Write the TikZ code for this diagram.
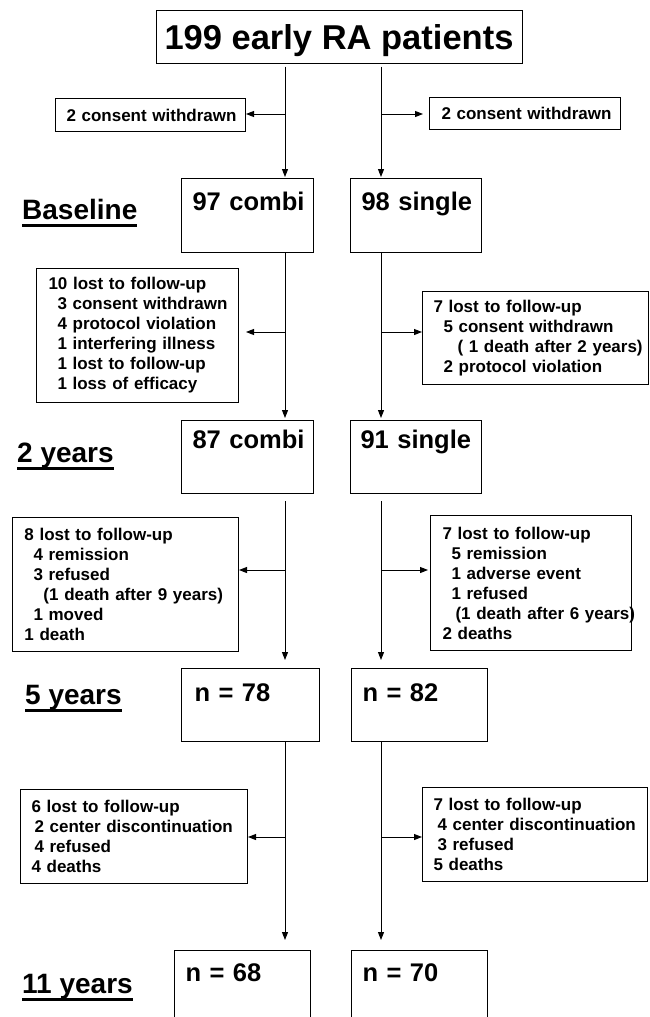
\documentclass[tikz,border=0pt]{standalone}
\usepackage{fontspec}
\setmainfont{Liberation Sans}
\usetikzlibrary{arrows.meta}
\newcommand{\titlesize}{\fontsize{34.5}{40}\selectfont\bfseries}
\newcommand{\armsize}{\fontsize{25.5}{30}\selectfont\bfseries}
\newcommand{\timesize}{\fontsize{28}{33}\selectfont\bfseries}
\newcommand{\losssize}{\fontsize{17}{20}\selectfont\bfseries}
\newcommand{\lossline}[2]{\hspace*{#1pt}\mbox{#2}}
\newcommand{\timeul}[1]{\setbox0\hbox{#1}%
  \rlap{\rule[-8pt]{\wd0}{2.6pt}}\box0}

\begin{document}
\begin{tikzpicture}[x=1pt, y=-1pt,
    flow/.style={line width=1pt, -{Triangle[length=8pt,width=6pt]}},
    armbox/.style={draw, line width=1pt, anchor=north west, inner sep=0pt,
                   align=left, font=\armsize,
                   text height=31pt, text depth=43pt},
    lossbox/.style={draw, line width=1pt, anchor=north west, inner sep=0pt,
                    align=left, font=\losssize},
    timelabel/.style={anchor=base west, inner sep=0pt, font=\timesize}]
  \useasboundingbox (0,0) rectangle (649,1017);

  \node[draw, line width=1pt, minimum width=366pt, minimum height=53pt,
        inner sep=0pt, text height=25pt, text depth=0pt, font=\titlesize]
        (total) at (339,36.5) {199 early RA patients};

  \node[lossbox, text width=190pt, minimum height=33pt] (cwL) at (55,98)
        {\lossline{11}{2 consent withdrawn}};
  \node[lossbox, text width=191pt, minimum height=32pt] (cwR) at (429,97)
        {\lossline{12}{2 consent withdrawn}};

  % baseline
  \node[timelabel] (tBase) at (22,219) {\timeul{Baseline}};
  \node[armbox, text width=132pt, text height=32pt, text depth=42pt] (b0L) at (181,178)
        {\lossline{11}{97 combi}};
  \node[armbox, text width=131pt, text height=32pt, text depth=42pt] (b0R) at (350,178)
        {\lossline{11}{98 single}};

  \node[lossbox, text width=202pt, minimum height=134pt] (loss0L) at (36,268)
        {\lossline{12}{10 lost to follow-up}\\
         \lossline{21}{3 consent withdrawn}\\
         \lossline{21}{4 protocol violation}\\
         \lossline{21}{1 interfering illness}\\
         \lossline{21}{1 lost to follow-up}\\
         \lossline{21}{1 loss of efficacy}};
  \node[lossbox, text width=226pt, minimum height=93pt] (loss0R) at (422,291)
        {\lossline{11}{7 lost to follow-up}\\
         \lossline{21}{5 consent withdrawn}\\
         \lossline{35}{( 1 death after 2 years)}\\
         \lossline{21}{2 protocol violation}};

  % 2 years
  \node[timelabel] (t2) at (17,462) {\timeul{2 years}};
  \node[armbox, text width=132pt, text height=28pt, text depth=45pt] (b2L) at (181,420)
        {\lossline{11}{87 combi}};
  \node[armbox, text width=131pt, text height=28pt, text depth=45pt] (b2R) at (350,420)
        {\lossline{10}{91 single}};

  \node[lossbox, text width=226pt, minimum height=134pt] (loss2L) at (12,517)
        {\lossline{12}{8 lost to follow-up}\\
         \lossline{21}{4 remission}\\
         \lossline{21}{3 refused}\\
         \lossline{31}{(1 death after 9 years)}\\
         \lossline{21}{1 moved}\\
         \lossline{12}{1 death}};
  \node[lossbox, text width=201pt, minimum height=135pt] (loss2R) at (430,515)
        {\lossline{12}{7 lost to follow-up}\\
         \lossline{21}{5 remission}\\
         \lossline{21}{1 adverse event}\\
         \lossline{21}{1 refused}\\
         \lossline{25}{(1 death after 6 years)}\\
         \lossline{12}{2 deaths}};

  % 5 years
  \node[timelabel] (t5) at (25,704) {\timeul{5 years}};
  \node[armbox, text width=138pt, text height=33pt, text depth=40pt] (b5L) at (181,668)
        {\lossline{13}{n = 78}};
  \node[armbox, text width=136pt, text height=33pt, text depth=40pt] (b5R) at (351,668)
        {\lossline{11}{n = 82}};

  \node[lossbox, text width=227pt, minimum height=94pt] (loss5L) at (20,789)
        {\lossline{11}{6 lost to follow-up}\\
         \lossline{14}{2 center discontinuation}\\
         \lossline{14}{4 refused}\\
         \lossline{11}{4 deaths}};
  \node[lossbox, text width=225pt, minimum height=94pt] (loss5R) at (422,787)
        {\lossline{11}{7 lost to follow-up}\\
         \lossline{15}{4 center discontinuation}\\
         \lossline{15}{3 refused}\\
         \lossline{11}{5 deaths}};

  % 11 years
  \node[timelabel] (t11) at (22,993) {\timeul{11 years}};
  \node[armbox, text width=136pt] (b11L) at (174,950) {\lossline{11}{n = 68}};
  \node[armbox, text width=136pt] (b11R) at (351,950) {\lossline{11}{n = 70}};

  \coordinate (colL) at (285,0);
  \coordinate (colR) at (381,0);
  \coordinate (sTL) at (285,114);
  \coordinate (sTR) at (381,114);
  \coordinate (s0L) at (285,332);
  \coordinate (s0R) at (381,332);
  \coordinate (s2L) at (285,570);
  \coordinate (s2R) at (381,570);
  \coordinate (s5L) at (285,837);
  \coordinate (s5R) at (381,837);

  \draw[flow, shorten <=3pt, shorten >=1pt] (total.south -| colL) -- (b0L.north -| colL);
  \draw[flow, shorten <=3pt, shorten >=1pt] (total.south -| colR) -- (b0R.north -| colR);
  \draw[flow] (sTL) -- (sTL -| cwL.east);
  \draw[flow, shorten >=6pt] (sTR) -- (sTR -| cwR.west);

  \draw[flow, shorten >=2pt] (b0L.south -| colL) -- (b2L.north -| colL);
  \draw[flow, shorten >=2pt] (b0R.south -| colR) -- (b2R.north -| colR);
  \draw[flow, shorten >=7pt] (s0L) -- (s0L -| loss0L.east);
  \draw[flow] (s0R) -- (s0R -| loss0R.west);

  \draw[flow, shorten <=7pt, shorten >=8pt] (b2L.south -| colL) -- (b5L.north -| colL);
  \draw[flow, shorten <=7pt, shorten >=8pt] (b2R.south -| colR) -- (b5R.north -| colR);
  \draw[flow] (s2L) -- (s2L -| loss2L.east);
  \draw[flow, shorten >=2pt] (s2R) -- (s2R -| loss2R.west);

  \draw[flow, shorten >=10pt] (b5L.south -| colL) -- (b11L.north -| colL);
  \draw[flow, shorten >=10pt] (b5R.south -| colR) -- (b11R.north -| colR);
  \draw[flow] (s5L) -- (s5L -| loss5L.east);
  \draw[flow] (s5R) -- (s5R -| loss5R.west);
\end{tikzpicture}
\end{document}
